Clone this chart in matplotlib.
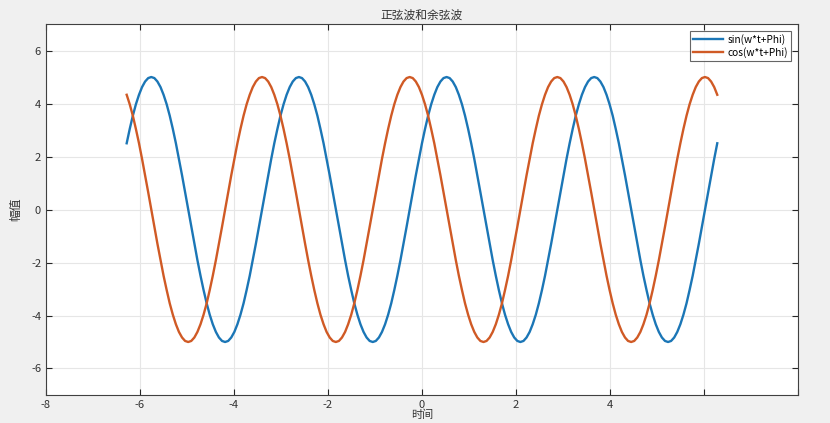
import matplotlib
matplotlib.use("Agg")
import matplotlib.pyplot as plt

plt.rcParams['font.family'] = ['Noto Sans CJK SC', 'DejaVu Sans']

# sample times (s), read along the x axis
t = [-6.283, -6.218, -6.152, -6.087, -6.021, -5.956, -5.891, -5.825, -5.760, -5.694,
     -5.629, -5.563, -5.498, -5.432, -5.367, -5.301, -5.236, -5.171, -5.105, -5.040,
     -4.974, -4.909, -4.843, -4.778, -4.712, -4.647, -4.581, -4.516, -4.451, -4.385,
     -4.320, -4.254, -4.189, -4.123, -4.058, -3.992, -3.927, -3.862, -3.796, -3.731,
     -3.665, -3.600, -3.534, -3.469, -3.403, -3.338, -3.272, -3.207,
     -3.142, -3.076, -3.011, -2.945, -2.880, -2.814, -2.749, -2.683, -2.618, -2.553,
     -2.487, -2.422, -2.356, -2.291, -2.225, -2.160, -2.094, -2.029, -1.963, -1.898,
     -1.833, -1.767, -1.702, -1.636, -1.571, -1.505, -1.440, -1.374, -1.309, -1.243,
     -1.178, -1.113, -1.047, -0.982, -0.916, -0.851, -0.785, -0.720, -0.654, -0.589,
     -0.524, -0.458, -0.393, -0.327, -0.262, -0.196, -0.131, -0.065,
     0.000, 0.065, 0.131, 0.196, 0.262, 0.327, 0.393, 0.458, 0.524, 0.589,
     0.654, 0.720, 0.785, 0.851, 0.916, 0.982, 1.047, 1.113, 1.178, 1.243,
     1.309, 1.374, 1.440, 1.505, 1.571, 1.636, 1.702, 1.767, 1.833, 1.898,
     1.963, 2.029, 2.094, 2.160, 2.225, 2.291, 2.356, 2.422, 2.487, 2.553,
     2.618, 2.683, 2.749, 2.814, 2.880, 2.945, 3.011, 3.076,
     3.142, 3.207, 3.272, 3.338, 3.403, 3.469, 3.534, 3.600, 3.665, 3.731,
     3.796, 3.862, 3.927, 3.992, 4.058, 4.123, 4.189, 4.254, 4.320, 4.385,
     4.451, 4.516, 4.581, 4.647, 4.712, 4.778, 4.843, 4.909, 4.974, 5.040,
     5.105, 5.171, 5.236, 5.301, 5.367, 5.432, 5.498, 5.563, 5.629, 5.694,
     5.760, 5.825, 5.891, 5.956, 6.021, 6.087, 6.152, 6.218,
     6.283]

sin_vals = [2.5, 3.04, 3.54, 3.97, 4.33, 4.62, 4.83, 4.96, 5.0, 4.96,
            4.83, 4.62, 4.33, 3.97, 3.54, 3.04, 2.5, 1.91, 1.29, 0.65,
            0.0, -0.65, -1.29, -1.91, -2.5, -3.04, -3.54, -3.97, -4.33, -4.62,
            -4.83, -4.96, -5.0, -4.96, -4.83, -4.62, -4.33, -3.97, -3.54, -3.04,
            -2.5, -1.91, -1.29, -0.65, 0.0, 0.65, 1.29, 1.91,
            2.5, 3.04, 3.54, 3.97, 4.33, 4.62, 4.83, 4.96, 5.0, 4.96,
            4.83, 4.62, 4.33, 3.97, 3.54, 3.04, 2.5, 1.91, 1.29, 0.65,
            0.0, -0.65, -1.29, -1.91, -2.5, -3.04, -3.54, -3.97, -4.33, -4.62,
            -4.83, -4.96, -5.0, -4.96, -4.83, -4.62, -4.33, -3.97, -3.54, -3.04,
            -2.5, -1.91, -1.29, -0.65, 0.0, 0.65, 1.29, 1.91,
            2.5, 3.04, 3.54, 3.97, 4.33, 4.62, 4.83, 4.96, 5.0, 4.96,
            4.83, 4.62, 4.33, 3.97, 3.54, 3.04, 2.5, 1.91, 1.29, 0.65,
            0.0, -0.65, -1.29, -1.91, -2.5, -3.04, -3.54, -3.97, -4.33, -4.62,
            -4.83, -4.96, -5.0, -4.96, -4.83, -4.62, -4.33, -3.97, -3.54, -3.04,
            -2.5, -1.91, -1.29, -0.65, 0.0, 0.65, 1.29, 1.91,
            2.5, 3.04, 3.54, 3.97, 4.33, 4.62, 4.83, 4.96, 5.0, 4.96,
            4.83, 4.62, 4.33, 3.97, 3.54, 3.04, 2.5, 1.91, 1.29, 0.65,
            0.0, -0.65, -1.29, -1.91, -2.5, -3.04, -3.54, -3.97, -4.33, -4.62,
            -4.83, -4.96, -5.0, -4.96, -4.83, -4.62, -4.33, -3.97, -3.54, -3.04,
            -2.5, -1.91, -1.29, -0.65, 0.0, 0.65, 1.29, 1.91,
            2.5]

cos_vals = [4.33, 3.97, 3.54, 3.04, 2.5, 1.91, 1.29, 0.65, 0.0, -0.65,
            -1.29, -1.91, -2.5, -3.04, -3.54, -3.97, -4.33, -4.62, -4.83, -4.96,
            -5.0, -4.96, -4.83, -4.62, -4.33, -3.97, -3.54, -3.04, -2.5, -1.91,
            -1.29, -0.65, 0.0, 0.65, 1.29, 1.91, 2.5, 3.04, 3.54, 3.97,
            4.33, 4.62, 4.83, 4.96, 5.0, 4.96, 4.83, 4.62,
            4.33, 3.97, 3.54, 3.04, 2.5, 1.91, 1.29, 0.65, 0.0, -0.65,
            -1.29, -1.91, -2.5, -3.04, -3.54, -3.97, -4.33, -4.62, -4.83, -4.96,
            -5.0, -4.96, -4.83, -4.62, -4.33, -3.97, -3.54, -3.04, -2.5, -1.91,
            -1.29, -0.65, 0.0, 0.65, 1.29, 1.91, 2.5, 3.04, 3.54, 3.97,
            4.33, 4.62, 4.83, 4.96, 5.0, 4.96, 4.83, 4.62,
            4.33, 3.97, 3.54, 3.04, 2.5, 1.91, 1.29, 0.65, 0.0, -0.65,
            -1.29, -1.91, -2.5, -3.04, -3.54, -3.97, -4.33, -4.62, -4.83, -4.96,
            -5.0, -4.96, -4.83, -4.62, -4.33, -3.97, -3.54, -3.04, -2.5, -1.91,
            -1.29, -0.65, 0.0, 0.65, 1.29, 1.91, 2.5, 3.04, 3.54, 3.97,
            4.33, 4.62, 4.83, 4.96, 5.0, 4.96, 4.83, 4.62,
            4.33, 3.97, 3.54, 3.04, 2.5, 1.91, 1.29, 0.65, 0.0, -0.65,
            -1.29, -1.91, -2.5, -3.04, -3.54, -3.97, -4.33, -4.62, -4.83, -4.96,
            -5.0, -4.96, -4.83, -4.62, -4.33, -3.97, -3.54, -3.04, -2.5, -1.91,
            -1.29, -0.65, 0.0, 0.65, 1.29, 1.91, 2.5, 3.04, 3.54, 3.97,
            4.33, 4.62, 4.83, 4.96, 5.0, 4.96, 4.83, 4.62,
            4.33]

x_ticks = [-8, -6, -4, -2, 0, 2, 4, 6, 8]
x_tick_labels = ['-8', '-6', '-4', '-2', '0', '2', '4', '', '']
y_ticks = [-6, -4, -2, 0, 2, 4, 6]
y_tick_labels = ['-6', '-4', '-2', '0', '2', '4', '6']
series_labels = ['sin(w*t+Phi)', 'cos(w*t+Phi)']

fig = plt.figure(figsize=(8.3, 4.23), dpi=100, facecolor='#F0F0F0')
ax = fig.add_axes([0.0554, 0.0662, 0.906, 0.877])
ax.set_facecolor('white')

ax.plot(t, sin_vals, color='#1B76B6', lw=1.7, label=series_labels[0])
ax.plot(t, cos_vals, color='#D05A25', lw=1.7, label=series_labels[1])

ax.set_xlim(-8, 8)
ax.set_ylim(-7, 7)
ax.set_xticks(x_ticks)
ax.set_xticklabels(x_tick_labels)
ax.set_yticks(y_ticks)
ax.set_yticklabels(y_tick_labels)

ax.grid(True, color='#E6E6E6', lw=0.8)
ax.set_axisbelow(True)
ax.tick_params(direction='in', top=True, right=True, length=4, width=0.8,
               color='#262626', labelcolor='#333333', labelsize=8)
for s in ax.spines.values():
    s.set_color('#404040')
    s.set_linewidth(0.8)

ax.set_title('正弦波和余弦波', fontsize=8.5, color='#333333', pad=4)
ax.set_xlabel('时间', fontsize=8, color='#333333', labelpad=0)
ax.set_ylabel('幅值', fontsize=8.5, color='#333333', labelpad=6)

leg = ax.legend(loc='upper right', fontsize=7.3, frameon=True, fancybox=False,
                handlelength=3.0, borderpad=0.3, labelspacing=0.15,
                handletextpad=0.4, borderaxespad=0.7)
leg.get_frame().set_edgecolor('#404040')
leg.get_frame().set_linewidth(0.8)

fig.savefig('out.png', dpi=100, facecolor=fig.get_facecolor())
